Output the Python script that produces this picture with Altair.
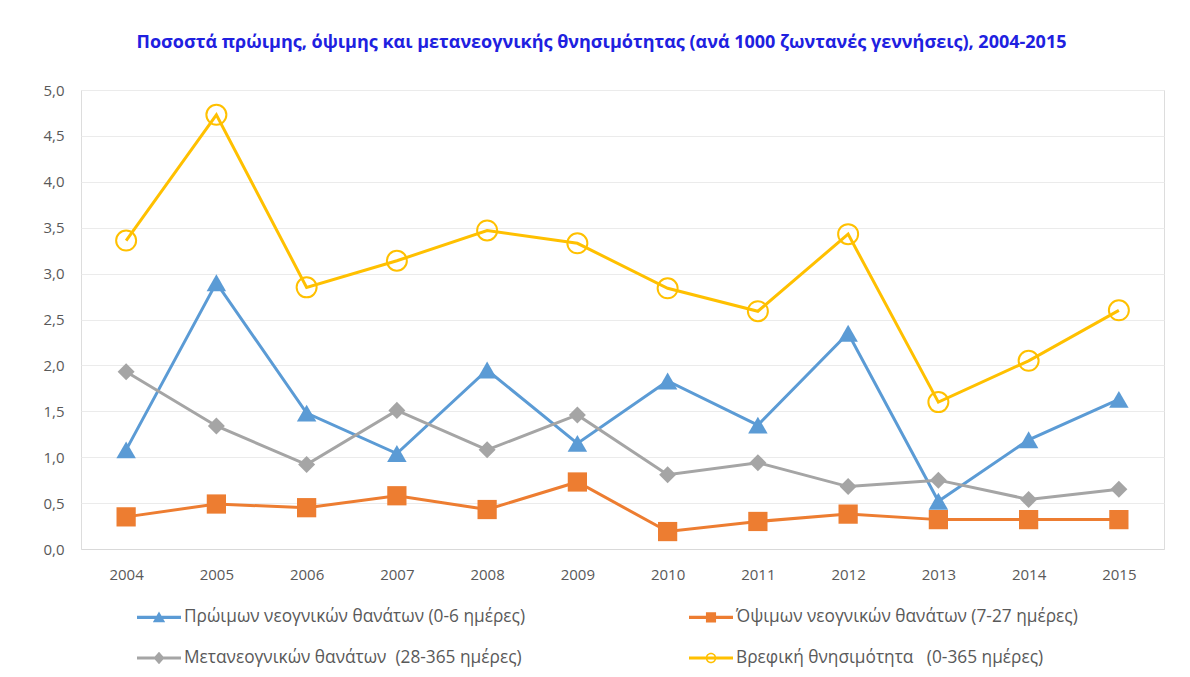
import altair as alt
import pandas as pd

years = [str(y) for y in range(2004, 2016)]
early = [1.08, 2.90, 1.48, 1.04, 1.95, 1.15, 1.83, 1.35, 2.35, 0.52, 1.19, 1.63]
late = [0.35, 0.49, 0.45, 0.58, 0.43, 0.73, 0.19, 0.30, 0.38, 0.32, 0.32, 0.32]
post = [1.93, 1.34, 0.92, 1.51, 1.08, 1.46, 0.81, 0.94, 0.68, 0.75, 0.54, 0.65]
infant = [3.36, 4.73, 2.85, 3.14, 3.47, 3.33, 2.84, 2.59, 3.43, 1.60, 2.05, 2.60]

names = [
    "Πρώιμων νεογνικών θανάτων (0-6 ημέρες)",
    "Όψιμων νεογνικών θανάτων (7-27 ημέρες)",
    "Μετανεογνικών θανάτων\u00a0 (28-365 ημέρες)",
    "Βρεφική θνησιμότητα\u00a0\u00a0 (0-365 ημέρες)",
]
series_values = [early, late, post, infant]
y_ticks = [0, 0.5, 1, 1.5, 2, 2.5, 3, 3.5, 4, 4.5, 5]
title_text = "Ποσοστά πρώιμης, όψιμης και μετανεογνικής θνησιμότητας (ανά 1000 ζωντανές γεννήσεις), 2004-2015"

colors = ["#5B9BD5", "#ED7D31", "#A5A5A5", "#FFC000"]
styles = [
    dict(shape="triangle-up", size=380, filled=True),
    dict(shape="square", size=370, filled=True),
    dict(shape="diamond", size=290, filled=True),
    dict(shape="circle", size=400, filled=False, strokeWidth=2),
]
BAR = "M-1,-0.07H1V0.07H-1Z"
legend_paths = [
    BAR + "M0,-0.27L0.28,0.22H-0.28Z",
    BAR + "M-0.23,-0.23H0.23V0.23H-0.23Z",
    BAR + "M0,-0.28L0.25,0L0,0.28L-0.25,0Z",
    BAR + "M0.24,0A0.24,0.24,0,1,1,-0.24,0A0.24,0.24,0,1,1,0.24,0Z"
          "M0.17,0A0.17,0.17,0,1,0,-0.17,0A0.17,0.17,0,1,0,0.17,0Z",
]

rows = []
for name, vals in zip(names, series_values):
    for yr, v in zip(years, vals):
        rows.append({"series": name, "year": yr, "value": v})
df = pd.DataFrame(rows)

# legend grid is filled column by column: left column first, then right column
legend_order = [0, 2, 1, 3]
leg_names = [names[i] for i in legend_order]
leg_colors = [colors[i] for i in legend_order]
leg_paths = [legend_paths[i] for i in legend_order]

FONT = "Open Sans"
GREY = "#595959"

x_enc = alt.X(
    "year:O",
    sort=years,
    title=None,
    axis=alt.Axis(
        labelAngle=0, labelFont=FONT, labelFontSize=15, labelColor=GREY,
        ticks=False, tickSize=0, labelPadding=18, domainColor="#D9D9D9",
        domainWidth=1, grid=False,
    ),
)
y_enc = alt.Y(
    "value:Q",
    title=None,
    scale=alt.Scale(domain=[0, 5], nice=False),
    axis=alt.Axis(
        values=y_ticks, labelExpr="replace(format(datum.value, '.1f'), '.', ',')",
        labelFont=FONT, labelFontSize=15, labelColor=GREY, ticks=False, tickSize=0,
        labelPadding=17, domain=False, gridColor="#EBEBEB", gridWidth=1,
    ),
)

legend = alt.Legend(
    title=None, orient="none", legendX=56, legendY=505, columns=2,
    columnPadding=163, rowPadding=10, padding=0,
    symbolSize=1936, symbolStrokeWidth=0, symbolOpacity=1, labelOffset=3,
    labelFont=FONT, labelFontSize=17.3, labelColor=GREY, labelLimit=600,
)
color_enc = alt.Color("series:N", sort=leg_names,
                      scale=alt.Scale(domain=leg_names, range=leg_colors), legend=legend)
shape_enc = alt.Shape("series:N", sort=leg_names,
                      scale=alt.Scale(domain=leg_names, range=leg_paths), legend=legend)

layers = []
for i, name in enumerate(names):
    base = alt.Chart(df).transform_filter(alt.datum.series == name)
    line = base.mark_line(strokeWidth=3, color=colors[i]).encode(x=x_enc, y=y_enc)
    st = dict(styles[i])
    pts = base.mark_point(color=colors[i], opacity=1, **st).encode(x=x_enc, y=y_enc)
    layers.append(line)
    layers.append(pts)

# legend-only layer (no rows pass the filter; the legend comes from the scales)
legend_layer = (
    alt.Chart(df)
    .transform_filter("false")
    .mark_point(filled=True, opacity=1)
    .encode(x=x_enc, y=y_enc, color=color_enc, shape=shape_enc)
)
layers.append(legend_layer)

chart = alt.layer(*layers).properties(
    width=1083,
    height=459,
    padding={"left": 73, "top": 82, "right": 18, "bottom": 120},
    autosize=alt.AutoSizeParams(type="none"),
    title=alt.Title(
        title_text, font=FONT, fontSize=18, fontWeight="bold", color="#2020E0",
        anchor="middle", offset=31, dx=-21,
    ),
).configure_view(stroke=None).configure(background="white")

chart.save("out.html", embed_options={"renderer": "svg", "actions": False})
